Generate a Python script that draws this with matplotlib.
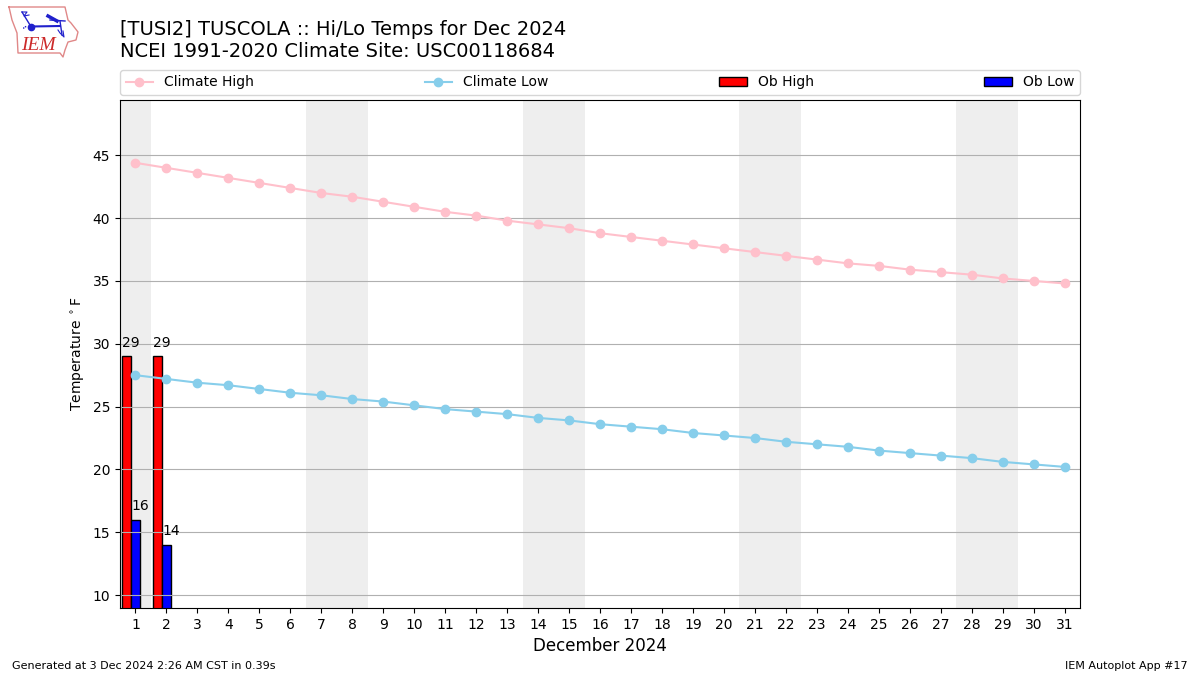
import numpy as np
import matplotlib
matplotlib.use('Agg')
import matplotlib.pyplot as plt

# Data
days = list(range(1, 32))
climate_high = [44.4, 44.0, 43.6, 43.2, 42.8, 42.4, 42.0, 41.7, 41.3, 40.9, 40.5,
                40.2, 39.8, 39.5, 39.2, 38.8, 38.5, 38.2, 37.9, 37.6, 37.3, 37.0,
                36.7, 36.4, 36.2, 35.9, 35.7, 35.5, 35.2, 35.0, 34.8]
climate_low = [27.5, 27.2, 26.9, 26.7, 26.4, 26.1, 25.9, 25.6, 25.4, 25.1, 24.8,
               24.6, 24.4, 24.1, 23.9, 23.6, 23.4, 23.2, 22.9, 22.7, 22.5, 22.2,
               22.0, 21.8, 21.5, 21.3, 21.1, 20.9, 20.6, 20.4, 20.2]
ob_days = [1, 2]
ob_high = [29, 29]
ob_low = [16, 14]
weekends = [1, 7, 8, 14, 15, 21, 22, 28, 29]

fig = plt.figure(figsize=(12, 6.75), dpi=100)
ax = fig.add_axes([120 / 1200, 1 - 608 / 675, 960 / 1200, 508 / 675])

# weekend shading
for d in weekends:
    ax.axvspan(d - 0.5, d + 0.5, color='#eeeeee', lw=0, zorder=0)

ax.grid(True, axis='y')
ax.set_axisbelow('line')

ob_days = np.array(ob_days)
high_bars = ax.bar(ob_days - 0.3, ob_high, width=0.3, color='red',
                   edgecolor='black', lw=1, label='Ob High')
low_bars = ax.bar(ob_days, ob_low, width=0.3, color='blue',
                  edgecolor='black', lw=1, label='Ob Low')

l1, = ax.plot(days, climate_high, '-o', color='pink', label='Climate High')
l2, = ax.plot(days, climate_low, '-o', color='skyblue', label='Climate Low')

# value labels start at the left edge of each bar
for d, v in zip(ob_days, ob_high):
    ax.text(d - 0.44, v + 0.52, str(v), ha='left', va='bottom', fontsize=10)
for d, v in zip(ob_days, ob_low):
    ax.text(d - 0.14, v + 0.52, str(v), ha='left', va='bottom', fontsize=10)

ax.set_xlim(0.5, 31.5)
ax.set_ylim(8.97, 49.4)
ax.set_xticks(days)
ax.set_yticks(range(10, 50, 5))
ax.tick_params(labelsize=10)
ax.set_xlabel('December 2024', fontsize=12)
ax.set_ylabel(r'Temperature $^\circ$F', fontsize=10)

ax.legend([l1, l2, high_bars, low_bars], ['Climate High', 'Climate Low', 'Ob High', 'Ob Low'],
          ncol=4, mode='expand', loc='lower left', bbox_to_anchor=(0, 1.01, 1, 0.05),
          fontsize=10, borderaxespad=0)

fig.text(120 / 1200, 1 - 29.5 / 675, '[TUSI2] TUSCOLA :: Hi/Lo Temps for Dec 2024', fontsize=14, va='center')
fig.text(120 / 1200, 1 - 51.5 / 675, 'NCEI 1991-2020 Climate Site: USC00118684', fontsize=14, va='center')
fig.text(12 / 1200, 1 - 666 / 675, 'Generated at 3 Dec 2024 2:26 AM CST in 0.39s', fontsize=8, va='center')
fig.text(1188 / 1200, 1 - 666 / 675, 'IEM Autoplot App #17', fontsize=8, va='center', ha='right')

# IEM logo, sketched in figure pixels
logo = fig.add_axes([0, 1 - 60 / 675, 90 / 1200, 60 / 675])
logo.set_xlim(0, 90)
logo.set_ylim(60, 0)
logo.axis('off')
state_x = [9, 65, 68, 71, 78, 76, 68, 65, 63, 60, 18, 17, 12, 9]
state_y = [7, 7, 20, 23, 32, 40, 42, 50, 57, 53, 53, 33, 20, 7]
logo.plot(state_x, state_y, color='#e08888', lw=1)
logo.text(21, 45, 'IEM', color='#cc2a2a', fontsize=14, style='italic', family='Liberation Serif', va='center')
blue = '#2020cc'
logo.plot([31, 60], [26.5, 26], color=blue, lw=1.5)
logo.plot([31], [26.5], 'o', color=blue, ms=4.5)
logo.plot([48, 57], [16, 21], color=blue, lw=2.5)
logo.plot([50, 65], [20, 21], color=blue, lw=1)
logo.plot([60, 62], [21, 35], color=blue, lw=1)
logo.plot([58, 60, 64, 63], [30, 33, 37, 31], color=blue, lw=0.8)
logo.plot([22, 30], [12, 25], color=blue, lw=1)
logo.plot([22, 27, 24, 29], [12, 12, 16, 15], color=blue, lw=0.8)
logo.plot([23, 26, 25], [28, 28, 25], color=blue, lw=1, ls=':')

fig.savefig('out.png', dpi=100)
